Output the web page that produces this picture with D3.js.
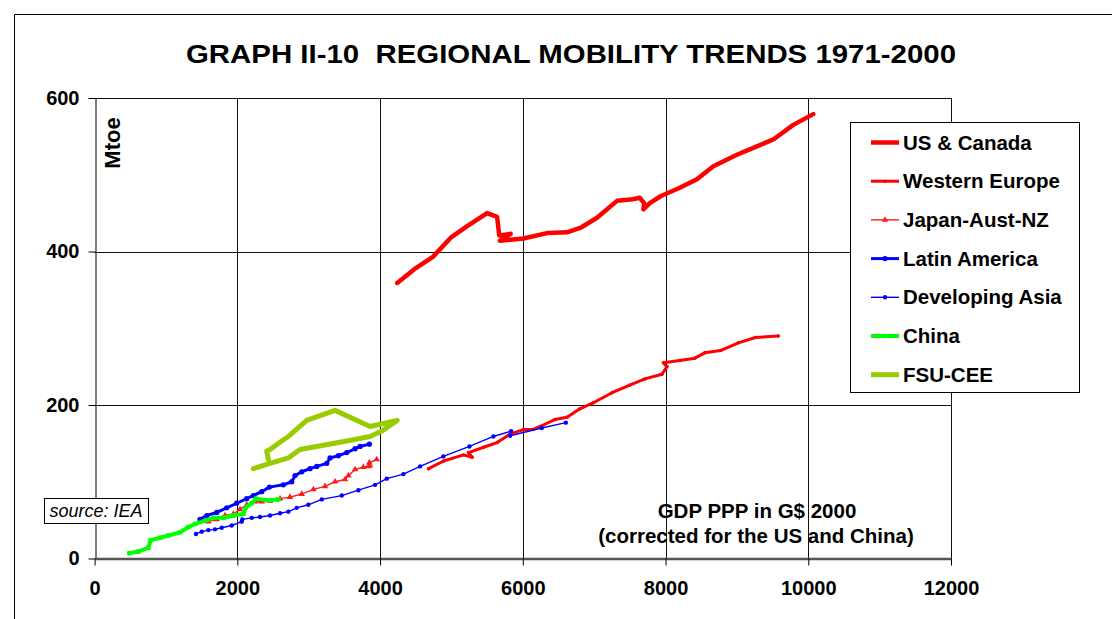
<!DOCTYPE html>
<html>
<head>
<meta charset="utf-8">
<script src="https://cdn.jsdelivr.net/npm/d3@7"></script>
<style>
body { margin: 0; background: #fff; }
text { font-family: "Liberation Sans", Arial, sans-serif; }
</style>
</head>
<body>
<div id="chart"></div>
<script>
var title = "GRAPH II-10\u00a0\u00a0REGIONAL MOBILITY TRENDS 1971-2000";
var xTicks = [0, 2000, 4000, 6000, 8000, 10000, 12000];
var yTicks = [0, 200, 400, 600];

// [GDP PPP G$ 2000, Mtoe]
var usCanada = [[4240,359],[4480,377],[4740,393],[4990,418],[5220,433],[5500,450],[5640,445],[5670,421],
  [5830,423],[5680,414],[6010,417],[6340,424],[6620,425],[6810,431],[7040,444],[7320,466],[7540,468],
  [7640,470],[7700,463],[7690,455],[7780,463],[7930,472],[8200,483],[8440,494],[8670,511],[9000,526],
  [9280,537],[9510,546],[9790,565],[10070,579]];
var westernEurope = [[4680,117],[4890,127],[5170,135],[5290,132],[5240,138],[5450,145],[5640,151],
  [5820,162],[6010,168],[6140,168],[6240,172],[6450,181],[6620,184],[6800,195],[6990,203],[7250,216],
  [7500,226],[7710,234],[7950,240],[8020,250],[7970,255],[8200,258],[8410,261],[8550,268],[8770,271],
  [9020,281],[9260,288],[9580,290]];
var japanAustNZ = [[1594,48],[1711,51],[1827,56],[1944,58],[2038,64],[2131,70],[2248,74],[2342,74],
  [2458,75],[2598,78],[2738,80],[2902,84],[3066,90],[3229,94],[3369,100],[3509,103],[3556,108],
  [3650,116],[3766,119],[3860,121],[3836,120],[3850,125],[3953,129]];
var latinAmerica = [[1477,51],[1571,56],[1711,60],[1851,66],[1991,72],[2131,78],[2224,82],[2342,87],
  [2449,93],[2645,96],[2762,100],[2809,108],[2902,113],[3019,117],[3113,120],[3253,124],[3299,131],
  [3416,134],[3533,138],[3650,143],[3720,146],[3850,149]];
var developingAsia = [[1421,32],[1501,35],[1594,37],[1687,38],[1781,40],[1921,43],[2061,48],[2070,51],
  [2202,53],[2318,54],[2458,56],[2598,59],[2715,61],[2832,66],[2995,70],[3183,77],[3463,82],[3696,89],
  [3930,96],[4094,104],[4327,110],[4561,120],[4887,133],[5252,146],[5588,159],[5836,166],[5822,160],
  [6266,170],[6603,177]];
var china = [[487,7],[613,9],[753,14],[786,24],[917,27],[1033,30],[1197,34],[1314,41],[1407,45],
  [1571,50],[1664,53],[1804,53],[1944,56],[2084,58],[2122,67],[2202,72],[2262,78],[2412,76],[2575,77]];
var fsuCee = [[2435,129],[2411,140],[2458,142],[2622,153],[2715,159],[2972,180],[3369,193],[3860,172],
  [4240,180],[4023,166],[3860,159],[3533,153],[2878,142],[2715,131],[2458,124],[2224,117]];

var series = [
  {name: "US & Canada", data: usCanada, color: "#ff0000", width: 4.5, marker: null},
  {name: "Western Europe", data: westernEurope, color: "#ff0000", width: 3, marker: "circle", r: 1.6},
  {name: "Japan-Aust-NZ", data: japanAustNZ, color: "#ff1a1a", width: 1.4, marker: "triangle", r: 2.2},
  {name: "Latin America", data: latinAmerica, color: "#0000ff", width: 3, marker: "circle", r: 2.4},
  {name: "Developing Asia", data: developingAsia, color: "#0000ff", width: 1.4, marker: "circle", r: 2},
  {name: "China", data: china, color: "#00ff00", width: 4, marker: "square", r: 2.2},
  {name: "FSU-CEE", data: fsuCee, color: "#99cc00", width: 5, marker: null}
];

var svg = d3.select("#chart").append("svg")
  .attr("width", 1112)
  .attr("height", 619);

var x = d3.scaleLinear().domain([0, 12000]).range([94.6, 951]);
var y = d3.scaleLinear().domain([0, 600]).range([558.5, 98]);

// outer frame of the chart object
svg.append("path")
  .attr("d", "M14.5,619 L14.5,14.5 L1112,14.5")
  .attr("fill", "none")
  .attr("stroke", "#000")
  .attr("stroke-width", 1);

svg.append("text")
  .attr("x", 571).attr("y", 63)
  .attr("text-anchor", "middle")
  .attr("font-size", 26).attr("font-weight", "bold")
  .attr("textLength", 770).attr("lengthAdjust", "spacingAndGlyphs")
  .text(title);

// grid
var grid = svg.append("g");
grid.selectAll(".vg").data(xTicks.slice(1)).enter().append("line")
  .attr("x1", function(d) { return Math.round(x(d)) + 0.5; })
  .attr("x2", function(d) { return Math.round(x(d)) + 0.5; })
  .attr("y1", y(600)).attr("y2", y(0))
  .attr("stroke", "#111").attr("stroke-width", 1);
grid.selectAll(".hg").data(yTicks.slice(1)).enter().append("line")
  .attr("x1", x(0)).attr("x2", x(12000))
  .attr("y1", function(d) { return Math.round(y(d)) + 0.5; })
  .attr("y2", function(d) { return Math.round(y(d)) + 0.5; })
  .attr("stroke", "#111").attr("stroke-width", 1);

// y axis
var yAxis = svg.append("g")
  .attr("transform", "translate(" + (Math.round(x(0)) + 0.5) + ",0)")
  .call(d3.axisLeft(y).tickValues(yTicks).tickFormat(d3.format("d"))
    .tickSize(7).tickPadding(9).tickSizeOuter(0));
yAxis.select(".domain").attr("stroke", "#000");
yAxis.selectAll(".tick line").attr("stroke", "#000");
yAxis.selectAll("text")
  .attr("font-family", "Liberation Sans, Arial, sans-serif")
  .attr("font-size", 20).attr("font-weight", "bold").attr("fill", "#000");

// x axis
var xAxis = svg.append("g")
  .attr("transform", "translate(0," + y(0) + ")")
  .call(d3.axisBottom(x).tickValues(xTicks).tickFormat(d3.format("d"))
    .tickSize(7).tickPadding(15).tickSizeOuter(0));
xAxis.select(".domain").attr("stroke", "#555").attr("stroke-width", 2.5);
xAxis.selectAll(".tick line").attr("stroke", "#000");
xAxis.selectAll("text")
  .attr("font-family", "Liberation Sans, Arial, sans-serif")
  .attr("font-size", 20).attr("font-weight", "bold").attr("fill", "#000");

svg.append("text")
  .attr("transform", "translate(120,143) rotate(-90)")
  .attr("text-anchor", "middle")
  .attr("font-size", 22).attr("font-weight", "bold")
  .text("Mtoe");

svg.append("text")
  .attr("x", 757).attr("y", 518)
  .attr("text-anchor", "middle")
  .attr("font-size", 20.5).attr("font-weight", "bold")
  .text("GDP PPP in G$ 2000");
svg.append("text")
  .attr("x", 756).attr("y", 543)
  .attr("text-anchor", "middle")
  .attr("font-size", 20.5).attr("font-weight", "bold")
  .text("(corrected for the US and China)");

// source box
svg.append("rect")
  .attr("x", 44.5).attr("y", 498.5).attr("width", 104).attr("height", 25)
  .attr("fill", "#fff").attr("stroke", "#000");
svg.append("text")
  .attr("x", 96).attr("y", 516.5)
  .attr("text-anchor", "middle")
  .attr("font-size", 18).attr("font-style", "italic")
  .text("source: IEA");

var line = d3.line()
  .x(function(d) { return x(d[0]); })
  .y(function(d) { return y(d[1]); });

function drawMarkers(g, s, pts) {
  if (!s.marker) return;
  var sym = s.marker === "square" ? d3.symbolSquare : (s.marker === "triangle" ? d3.symbolTriangle : d3.symbolCircle);
  var size = s.marker === "square" ? (2 * s.r) * (2 * s.r) : Math.PI * s.r * s.r * 1.2;
  g.selectAll(".m").data(pts).enter().append("path")
    .attr("d", d3.symbol().type(sym).size(size))
    .attr("transform", function(d) { return "translate(" + d[0] + "," + d[1] + ")"; })
    .attr("fill", s.color);
}

// drawn in series order so later ones sit on top, as in the original
var plot = svg.append("g");
series.forEach(function(s) {
  var g = plot.append("g");
  g.append("path")
    .attr("d", line(s.data))
    .attr("fill", "none")
    .attr("stroke", s.color)
    .attr("stroke-width", s.width)
    .attr("stroke-linejoin", "round")
    .attr("stroke-linecap", "round");
  drawMarkers(g, s, s.data.map(function(d) { return [x(d[0]), y(d[1])]; }));
});

// legend
var legend = svg.append("g");
legend.append("rect")
  .attr("x", 850.5).attr("y", 122.5).attr("width", 229).attr("height", 270)
  .attr("fill", "#fff").attr("stroke", "#000");
var rows = legend.selectAll(".row").data(series).enter().append("g")
  .attr("transform", function(d, i) { return "translate(0," + (142.5 + i * 38.7) + ")"; });
rows.append("line")
  .attr("x1", 871).attr("x2", 899).attr("y1", 0).attr("y2", 0)
  .attr("stroke", function(d) { return d.color; })
  .attr("stroke-width", function(d) { return d.width; });
rows.each(function(s) { drawMarkers(d3.select(this), s, [[885, 0]]); });
rows.append("text")
  .attr("x", 903).attr("y", 7)
  .attr("font-size", 20.5).attr("font-weight", "bold")
  .text(function(d) { return d.name; });
</script>
</body>
</html>
